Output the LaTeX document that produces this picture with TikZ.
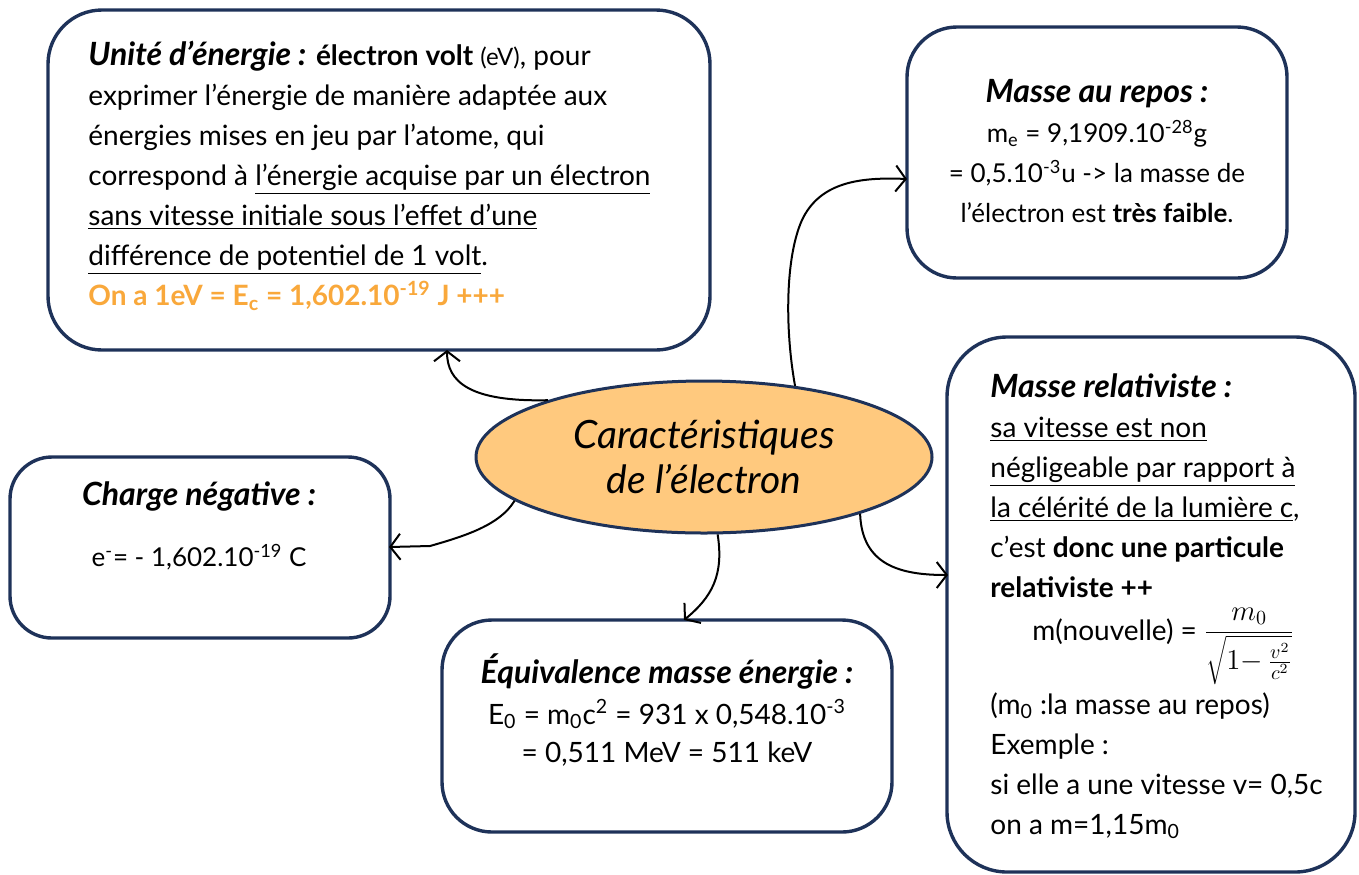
\documentclass[tikz,border=0pt]{standalone}
\usepackage{fontspec}
\setmainfont{Lato}
\usetikzlibrary{shapes.geometric,arrows.meta}
\definecolor{navy}{HTML}{1E3259}
\definecolor{ellfill}{HTML}{FFC97E}
\definecolor{orangeT}{HTML}{F9A83B}
\newcommand{\ttl}[1]{{\fontsize{16}{20}\selectfont\textbf{\textit{#1}}}}
\begin{document}
\begin{tikzpicture}[x=0.5pt,y=-0.5pt,
  box/.style={draw=navy, line width=1.7pt, rounded corners=27pt, inner sep=0pt, fill=white},
  conn/.style={line width=1pt, -{Straight Barb[length=5pt,width=13pt,line width=1pt]}},
  body/.style={font=\fontsize{14}{20}\selectfont, inner sep=0pt, align=left},
  cbody/.style={font=\fontsize{14}{20}\selectfont, inner sep=0pt, align=center},
  sbody/.style={font=\fontsize{13}{20}\selectfont, inner sep=0pt, align=center}]
\useasboundingbox (0,0) rectangle (1359,874);

% boxes
\node[box, minimum width=331pt, minimum height=170pt] (b1) at (379,180) {};
\node[box, minimum width=190pt, minimum height=125.5pt, rounded corners=25pt] (b2) at (1097,152.5) {};
\node[box, minimum width=204pt, minimum height=267.5pt, rounded corners=30pt] (b3) at (1151,604.5) {};
\node[box, minimum width=190pt, minimum height=90.5pt, rounded corners=21pt] (b4) at (200,547.5) {};
\node[box, minimum width=225pt, minimum height=106pt, rounded corners=25pt] (b5) at (667,726) {};

% central ellipse
\node[ellipse, draw=navy, line width=1.5pt, fill=ellfill, minimum width=228pt, minimum height=76pt,
      inner sep=0pt, align=center, font=\fontsize{19.5}{22.5}\selectfont\itshape] (ell) at (704,457)
      {Caractéristiques\\de l’électron};

% texts box 1
\node[body, anchor=north west] (t1) at (88,41) {%
\ttl{Unité d’énergie :} \textbf{électron volt} {\fontsize{12}{20}\selectfont(eV)}, pour\\
exprimer l’énergie de manière adaptée aux\\
énergies mises en jeu par l’atome, qui\\
correspond à \underline{l’énergie acquise par un électron}\\
\underline{sans vitesse initiale sous l’effet d’une}\\
\underline{différence de potentiel de 1 volt}.\\
\textcolor{orangeT}{\textbf{On a 1eV = E\textsubscript{c} = 1,602.10\textsuperscript{-19} J +++}}};

% box 2
\node[sbody, anchor=north] (t2) at (1097,79) {%
\ttl{Masse au repos :}\\
m\textsubscript{e} = 9,1909.10\textsuperscript{-28}g\\
= 0,5.10\textsuperscript{-3}u -> la masse de\\
l’électron est \textbf{très faible}.};

% box 3
\node[body, anchor=north west] (t3a) at (990,373) {%
\ttl{Masse relativiste :}\\
\underline{sa vitesse est non}\\
\underline{négligeable par rapport à}\\
\underline{la célérité de la lumière c},\\
c’est \textbf{donc une particule}\\
\textbf{relativiste ++}};
\node[body, anchor=base west] (t3f) at (1032,640) {m(nouvelle) = $\displaystyle\frac{m_0}{\sqrt{1{-}\,\frac{v^2}{c^2}}}$};
\node[body, anchor=north west] (t3b) at (990,692) {%
(m\textsubscript{0} :la masse au repos)\\
Exemple :\\
si elle a une vitesse v= 0,5c\\
on a m=1,15m\textsubscript{0}};

% box 4
\node[cbody, anchor=base] (t4a) at (199,505) {\ttl{Charge négative :}};
\node[sbody, anchor=base] (t4b) at (199,566) {e\textsuperscript{-}= - 1,602.10\textsuperscript{-19} C};

% box 5
\node[cbody, anchor=base] (t5a) at (667,683) {\ttl{Équivalence masse énergie :}};
\node[cbody, anchor=base] (t5b) at (667,724) {E\textsubscript{0} = m\textsubscript{0}c\textsuperscript{2} = 931 x 0,548.10\textsuperscript{-3}};
\node[cbody, anchor=base] (t5c) at (667,762) {= 0,511 MeV = 511 keV};

% connector end points on the boxes
\coordinate (e1) at (447,350);
\coordinate (e2) at (907,179);
\coordinate (e3) at (389,547);
\coordinate (e4) at (684,620);
\coordinate (e5) at (948,575);

% connectors
\draw[conn] (ell.160) .. controls (470,402) and (447,382) .. (e1);
\draw[conn] (ell.38) .. controls (785,330) and (785,258) .. (802,220) .. controls (820,182) and (860,177) .. (e2);
\draw[conn] (ell.193) .. controls (500,525) and (465,536) .. (430,546) -- (e3);
\draw[conn] (ell.-80) .. controls (724,575) and (712,597) .. (e4);
\draw[conn] (ell.-20) .. controls (862,565) and (900,575) .. (e5);
\end{tikzpicture}
\end{document}
